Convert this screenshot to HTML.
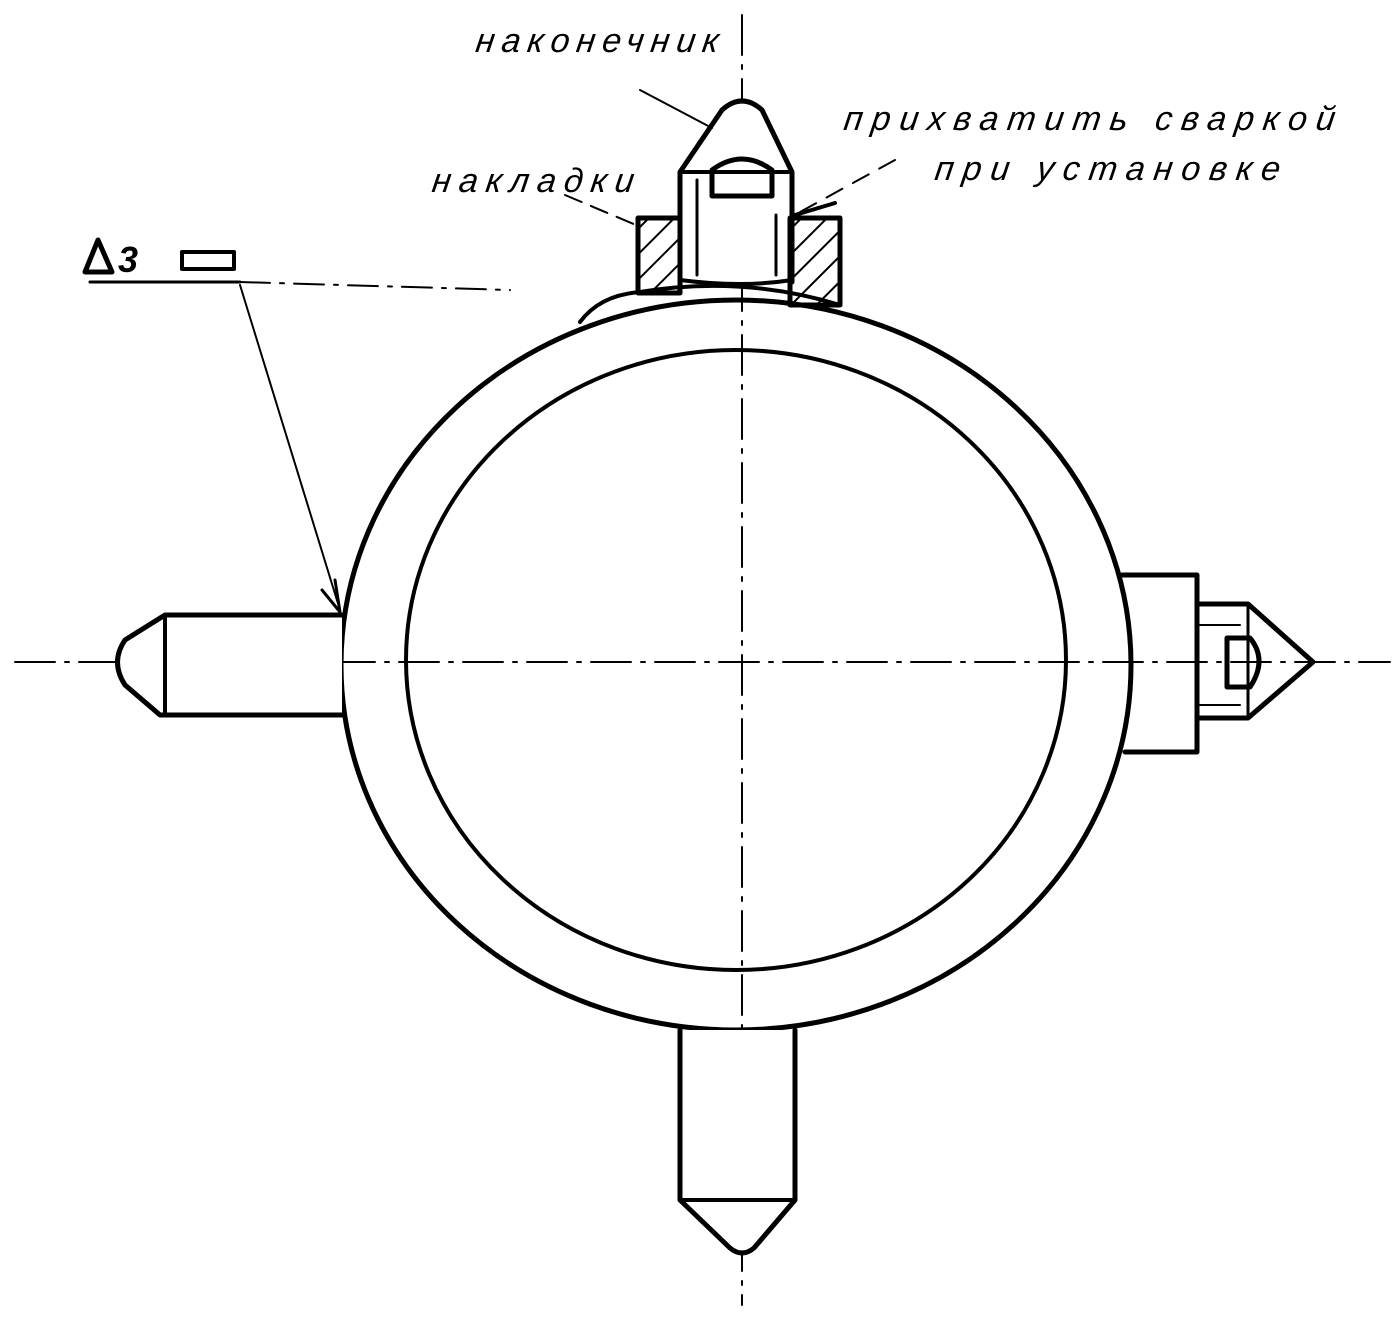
<!DOCTYPE html>
<html><head><meta charset="utf-8"><style>
html,body{margin:0;padding:0;background:#fff;}
svg{display:block}
text{font-family:"Liberation Sans","DejaVu Sans",sans-serif;font-style:italic;fill:#000;}
</style></head><body>
<svg width="1400" height="1324" viewBox="0 0 1400 1324" xmlns="http://www.w3.org/2000/svg">
<defs>
<pattern id="h" width="18" height="18" patternUnits="userSpaceOnUse" patternTransform="rotate(45)">
<line x1="0" y1="0" x2="0" y2="18" stroke="#000" stroke-width="4"/>
</pattern>
</defs>
<g fill="none" stroke="#000" stroke-linecap="round" stroke-linejoin="round">
<line x1="15" y1="662" x2="1390" y2="662" stroke-width="2" stroke-dasharray="40 10 4 10"/>
<line x1="742" y1="15" x2="742" y2="1305" stroke-width="2" stroke-dasharray="40 10 4 10"/>
<ellipse cx="736" cy="665" rx="395" ry="365" stroke-width="5"/>
<ellipse cx="736" cy="660" rx="330" ry="310" stroke-width="4"/>
<path d="M680 282 L680 172 L722 110 Q742 92 762 110 L792 172 L792 282" stroke-width="5" fill="#fff"/>
<line x1="680" y1="172" x2="792" y2="172" stroke-width="4"/>
<path d="M712 196 L712 170 Q742 148 772 170 L772 196 Z" stroke-width="5"/>
<line x1="697" y1="180" x2="697" y2="275" stroke-width="3"/>
<line x1="776" y1="215" x2="776" y2="275" stroke-width="3"/>
<path d="M680 280 Q742 288 792 280" stroke-width="4"/>
<rect x="638" y="218" width="42" height="75" fill="url(#h)" stroke-width="5"/>
<rect x="790" y="218" width="50" height="87" fill="url(#h)" stroke-width="5"/>
<path d="M580 322 Q600 295 640 292 Q742 275 840 305" stroke-width="4"/>
<line x1="795" y1="215" x2="835" y2="203" stroke-width="4"/>
<path d="M342 615 L165 615 L125 640 Q110 662 125 685 L160 715 L342 715" stroke-width="5" fill="#fff"/>
<line x1="165" y1="615" x2="165" y2="715" stroke-width="4"/>
<path d="M1122 575 L1197 575 L1197 752 L1125 752" stroke-width="5"/>
<path d="M1197 604 L1248 604 L1313 662 L1248 718 L1197 718" stroke-width="5"/>
<line x1="1248" y1="604" x2="1248" y2="718" stroke-width="3"/>
<path d="M1227 638 L1250 638 Q1268 660 1250 687 L1227 687 Z" stroke-width="5"/>
<line x1="1200" y1="625" x2="1240" y2="625" stroke-width="2"/>
<line x1="1200" y1="705" x2="1240" y2="705" stroke-width="2"/>
<path d="M680 1030 L680 1200 L730 1248 Q742 1258 754 1248 L795 1200 L795 1030" stroke-width="5" fill="#fff"/>
<line x1="680" y1="1200" x2="795" y2="1200" stroke-width="4"/>
<line x1="90" y1="282" x2="240" y2="282" stroke-width="3"/>
<line x1="240" y1="282" x2="510" y2="290" stroke-width="2" stroke-dasharray="30 10 4 10"/>
<line x1="240" y1="285" x2="340" y2="610" stroke-width="2"/>
<path d="M322 590 L340 612 L335 580" stroke-width="3"/>
<line x1="640" y1="90" x2="712" y2="128" stroke-width="2"/>
<line x1="565" y1="195" x2="636" y2="225" stroke-width="2" stroke-dasharray="18 10"/>
<line x1="895" y1="160" x2="800" y2="212" stroke-width="2" stroke-dasharray="18 12"/>
<rect x="182" y="252" width="52" height="17" stroke-width="4"/>
<path d="M85 272 L98 240 L112 272 Z" stroke-width="5"/>
</g>
<text x="118" y="272" font-size="36" font-weight="bold">3</text>
<text x="476" y="52" font-size="34" letter-spacing="7" transform="skewX(-8)" dx="6">наконечник</text>
<text x="845" y="130" font-size="34" letter-spacing="9" transform="skewX(-8)" dx="16">прихватить сваркой</text>
<text x="935" y="180" font-size="34" letter-spacing="9" transform="skewX(-8)" dx="24">при установке</text>
<text x="432" y="192" font-size="34" letter-spacing="8" transform="skewX(-8)" dx="26">накладки</text>
</svg>
</body></html>
